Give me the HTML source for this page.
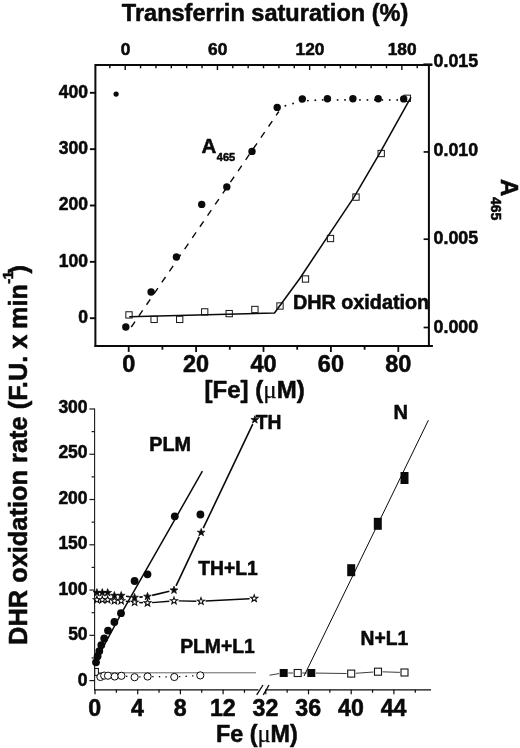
<!DOCTYPE html>
<html><head><meta charset="utf-8"><title>Figure</title>
<style>
html,body{margin:0;padding:0;background:#fff;}
svg{display:block;font-family:"Liberation Sans", sans-serif;fill:#0a0a0a;}
text{stroke:#0a0a0a;stroke-width:0.55px;stroke-linejoin:round;}
.mu{stroke-width:0.25px;}
</style></head><body>
<svg width="520" height="748" viewBox="0 0 520 748">
<rect width="520" height="748" fill="#fff" stroke="none"/>
<text x="121.80" y="21.00" font-size="24.5" font-weight="bold" text-anchor="start" textLength="286.5" lengthAdjust="spacingAndGlyphs" >Transferrin saturation (%)</text>
<polyline points="432.30,65.10 95.40,65.10 95.40,347.00" fill="none" stroke="#0a0a0a" stroke-width="2.0" />
<polyline points="94.50,346.10 432.90,346.10" fill="none" stroke="#0a0a0a" stroke-width="2.0" />
<line x1="428.90" y1="65.10" x2="428.90" y2="346.10" stroke="#0a0a0a" stroke-width="2.0" />
<line x1="109.83" y1="65.10" x2="109.83" y2="68.30" stroke="#0a0a0a" stroke-width="1.4" />
<line x1="125.20" y1="65.10" x2="125.20" y2="70.10" stroke="#0a0a0a" stroke-width="1.4" />
<line x1="140.57" y1="65.10" x2="140.57" y2="68.30" stroke="#0a0a0a" stroke-width="1.4" />
<line x1="155.94" y1="65.10" x2="155.94" y2="68.30" stroke="#0a0a0a" stroke-width="1.4" />
<line x1="171.31" y1="65.10" x2="171.31" y2="68.30" stroke="#0a0a0a" stroke-width="1.4" />
<line x1="186.68" y1="65.10" x2="186.68" y2="68.30" stroke="#0a0a0a" stroke-width="1.4" />
<line x1="202.05" y1="65.10" x2="202.05" y2="68.30" stroke="#0a0a0a" stroke-width="1.4" />
<line x1="217.42" y1="65.10" x2="217.42" y2="70.10" stroke="#0a0a0a" stroke-width="1.4" />
<line x1="232.79" y1="65.10" x2="232.79" y2="68.30" stroke="#0a0a0a" stroke-width="1.4" />
<line x1="248.16" y1="65.10" x2="248.16" y2="68.30" stroke="#0a0a0a" stroke-width="1.4" />
<line x1="263.53" y1="65.10" x2="263.53" y2="68.30" stroke="#0a0a0a" stroke-width="1.4" />
<line x1="278.90" y1="65.10" x2="278.90" y2="68.30" stroke="#0a0a0a" stroke-width="1.4" />
<line x1="294.27" y1="65.10" x2="294.27" y2="68.30" stroke="#0a0a0a" stroke-width="1.4" />
<line x1="309.64" y1="65.10" x2="309.64" y2="70.10" stroke="#0a0a0a" stroke-width="1.4" />
<line x1="325.01" y1="65.10" x2="325.01" y2="68.30" stroke="#0a0a0a" stroke-width="1.4" />
<line x1="340.38" y1="65.10" x2="340.38" y2="68.30" stroke="#0a0a0a" stroke-width="1.4" />
<line x1="355.75" y1="65.10" x2="355.75" y2="68.30" stroke="#0a0a0a" stroke-width="1.4" />
<line x1="371.12" y1="65.10" x2="371.12" y2="68.30" stroke="#0a0a0a" stroke-width="1.4" />
<line x1="386.49" y1="65.10" x2="386.49" y2="68.30" stroke="#0a0a0a" stroke-width="1.4" />
<line x1="401.86" y1="65.10" x2="401.86" y2="70.10" stroke="#0a0a0a" stroke-width="1.4" />
<line x1="417.23" y1="65.10" x2="417.23" y2="68.30" stroke="#0a0a0a" stroke-width="1.4" />
<text x="125.50" y="54.90" font-size="17.3" font-weight="bold" text-anchor="middle" >0</text>
<text x="217.72" y="54.90" font-size="17.3" font-weight="bold" text-anchor="middle" >60</text>
<text x="309.94" y="54.90" font-size="17.3" font-weight="bold" text-anchor="middle" >120</text>
<text x="402.16" y="54.90" font-size="17.3" font-weight="bold" text-anchor="middle" >180</text>
<line x1="89.90" y1="318.20" x2="95.40" y2="318.20" stroke="#0a0a0a" stroke-width="1.9" />
<text x="88.00" y="323.10" font-size="17.5" font-weight="bold" text-anchor="end" >0</text>
<line x1="89.90" y1="261.85" x2="95.40" y2="261.85" stroke="#0a0a0a" stroke-width="1.9" />
<text x="88.00" y="266.75" font-size="17.5" font-weight="bold" text-anchor="end" >100</text>
<line x1="89.90" y1="205.50" x2="95.40" y2="205.50" stroke="#0a0a0a" stroke-width="1.9" />
<text x="88.00" y="210.40" font-size="17.5" font-weight="bold" text-anchor="end" >200</text>
<line x1="89.90" y1="149.15" x2="95.40" y2="149.15" stroke="#0a0a0a" stroke-width="1.9" />
<text x="88.00" y="154.05" font-size="17.5" font-weight="bold" text-anchor="end" >300</text>
<line x1="89.90" y1="92.80" x2="95.40" y2="92.80" stroke="#0a0a0a" stroke-width="1.9" />
<text x="88.00" y="97.70" font-size="17.5" font-weight="bold" text-anchor="end" >400</text>
<line x1="423.60" y1="327.50" x2="428.90" y2="327.50" stroke="#0a0a0a" stroke-width="1.7" />
<text x="433.60" y="332.80" font-size="17.8" font-weight="bold" text-anchor="start" >0.000</text>
<line x1="423.60" y1="239.20" x2="428.90" y2="239.20" stroke="#0a0a0a" stroke-width="1.7" />
<text x="433.60" y="243.50" font-size="17.8" font-weight="bold" text-anchor="start" >0.005</text>
<line x1="423.60" y1="151.95" x2="428.90" y2="151.95" stroke="#0a0a0a" stroke-width="1.7" />
<text x="433.60" y="156.10" font-size="17.8" font-weight="bold" text-anchor="start" >0.010</text>
<text x="433.60" y="67.40" font-size="17.8" font-weight="bold" text-anchor="start" >0.015</text>
<line x1="423.40" y1="64.40" x2="432.30" y2="64.40" stroke="#0a0a0a" stroke-width="2.0" />
<line x1="128.70" y1="346.10" x2="128.70" y2="351.90" stroke="#0a0a0a" stroke-width="1.8" />
<text x="128.70" y="372.40" font-size="23.5" font-weight="bold" text-anchor="middle" >0</text>
<line x1="162.40" y1="346.10" x2="162.40" y2="349.70" stroke="#0a0a0a" stroke-width="1.8" />
<line x1="196.10" y1="346.10" x2="196.10" y2="351.90" stroke="#0a0a0a" stroke-width="1.8" />
<text x="196.10" y="372.40" font-size="23.5" font-weight="bold" text-anchor="middle" >20</text>
<line x1="229.80" y1="346.10" x2="229.80" y2="349.70" stroke="#0a0a0a" stroke-width="1.8" />
<line x1="263.50" y1="346.10" x2="263.50" y2="351.90" stroke="#0a0a0a" stroke-width="1.8" />
<text x="263.50" y="372.40" font-size="23.5" font-weight="bold" text-anchor="middle" >40</text>
<line x1="297.20" y1="346.10" x2="297.20" y2="349.70" stroke="#0a0a0a" stroke-width="1.8" />
<line x1="330.90" y1="346.10" x2="330.90" y2="351.90" stroke="#0a0a0a" stroke-width="1.8" />
<text x="330.90" y="372.40" font-size="23.5" font-weight="bold" text-anchor="middle" >60</text>
<line x1="364.60" y1="346.10" x2="364.60" y2="349.70" stroke="#0a0a0a" stroke-width="1.8" />
<line x1="398.30" y1="346.10" x2="398.30" y2="351.90" stroke="#0a0a0a" stroke-width="1.8" />
<text x="398.30" y="372.40" font-size="23.5" font-weight="bold" text-anchor="middle" >80</text>
<text x="204.6" y="398.3" font-size="24" font-weight="bold">[Fe] (<tspan class="mu" font-family="Liberation Serif, serif" font-weight="normal" font-size="25">μ</tspan>M)</text>
<polyline points="129.20,316.80 274.50,313.00 299.60,278.70 326.80,237.90 354.20,196.90 379.50,153.70 411.00,97.20" fill="none" stroke="#0a0a0a" stroke-width="1.55" stroke-linejoin="round"/>
<polyline points="130.60,328.00 278.80,111.50" fill="none" stroke="#0a0a0a" stroke-width="1.4000000000000001" stroke-dasharray="6.6 6.9" stroke-dashoffset="-1.2"/>
<circle cx="285.40" cy="105.80" r="0.95" fill="#0a0a0a"/>
<circle cx="293.10" cy="103.50" r="0.95" fill="#0a0a0a"/>
<circle cx="300.60" cy="101.30" r="0.95" fill="#0a0a0a"/>
<circle cx="307.90" cy="100.60" r="0.95" fill="#0a0a0a"/>
<circle cx="315.30" cy="100.20" r="0.95" fill="#0a0a0a"/>
<circle cx="322.70" cy="99.90" r="0.95" fill="#0a0a0a"/>
<circle cx="330.15" cy="99.90" r="0.95" fill="#0a0a0a"/>
<circle cx="337.60" cy="99.90" r="0.95" fill="#0a0a0a"/>
<circle cx="345.05" cy="99.90" r="0.95" fill="#0a0a0a"/>
<circle cx="352.50" cy="99.90" r="0.95" fill="#0a0a0a"/>
<circle cx="359.95" cy="99.90" r="0.95" fill="#0a0a0a"/>
<circle cx="367.40" cy="99.90" r="0.95" fill="#0a0a0a"/>
<circle cx="374.85" cy="99.90" r="0.95" fill="#0a0a0a"/>
<circle cx="382.30" cy="99.90" r="0.95" fill="#0a0a0a"/>
<circle cx="389.75" cy="99.90" r="0.95" fill="#0a0a0a"/>
<circle cx="397.20" cy="99.90" r="0.95" fill="#0a0a0a"/>
<rect x="125.85" y="311.75" width="6.3" height="6.3" fill="none" stroke="#151515" stroke-width="1.0"/>
<rect x="150.95" y="316.25" width="6.3" height="6.3" fill="none" stroke="#151515" stroke-width="1.0"/>
<rect x="176.55" y="316.25" width="6.3" height="6.3" fill="none" stroke="#151515" stroke-width="1.0"/>
<rect x="201.55" y="308.75" width="6.3" height="6.3" fill="none" stroke="#151515" stroke-width="1.0"/>
<rect x="226.05" y="310.45" width="6.3" height="6.3" fill="none" stroke="#151515" stroke-width="1.0"/>
<rect x="251.75" y="306.35" width="6.3" height="6.3" fill="none" stroke="#151515" stroke-width="1.0"/>
<rect x="276.85" y="302.85" width="6.3" height="6.3" fill="none" stroke="#151515" stroke-width="1.0"/>
<rect x="302.35" y="275.85" width="6.3" height="6.3" fill="none" stroke="#151515" stroke-width="1.0"/>
<rect x="327.35" y="235.35" width="6.3" height="6.3" fill="none" stroke="#151515" stroke-width="1.0"/>
<rect x="352.85" y="193.95" width="6.3" height="6.3" fill="none" stroke="#151515" stroke-width="1.0"/>
<rect x="378.05" y="150.35" width="6.3" height="6.3" fill="none" stroke="#151515" stroke-width="1.0"/>
<rect x="404.15" y="95.15" width="6.3" height="6.3" fill="none" stroke="#151515" stroke-width="1.0"/>
<circle cx="116.10" cy="94.10" r="2.6" fill="#0a0a0a"/>
<circle cx="125.80" cy="327.00" r="3.7" fill="#0a0a0a"/>
<circle cx="151.10" cy="292.00" r="3.7" fill="#0a0a0a"/>
<circle cx="176.40" cy="257.00" r="3.7" fill="#0a0a0a"/>
<circle cx="201.70" cy="204.40" r="3.7" fill="#0a0a0a"/>
<circle cx="226.80" cy="186.90" r="3.7" fill="#0a0a0a"/>
<circle cx="252.00" cy="151.40" r="3.7" fill="#0a0a0a"/>
<circle cx="277.20" cy="107.40" r="3.7" fill="#0a0a0a"/>
<circle cx="302.30" cy="99.00" r="3.7" fill="#0a0a0a"/>
<circle cx="327.40" cy="98.80" r="3.7" fill="#0a0a0a"/>
<circle cx="352.90" cy="98.80" r="3.7" fill="#0a0a0a"/>
<circle cx="378.20" cy="98.80" r="3.7" fill="#0a0a0a"/>
<circle cx="403.70" cy="98.90" r="3.7" fill="#0a0a0a"/>
<text x="201.60" y="153.00" font-size="20.5" font-weight="bold" text-anchor="start" >A</text>
<text x="216.80" y="160.90" font-size="11" font-weight="bold" text-anchor="start" >465</text>
<text x="292.90" y="309.40" font-size="19.8" font-weight="bold" text-anchor="start" >DHR oxidation</text>
<g transform="translate(500.5,179) rotate(90)"><text x="0" y="0" font-size="24" font-weight="bold">A</text><text x="18" y="9.5" font-size="14" font-weight="bold">465</text></g>
<g transform="translate(27.4,644.9) rotate(-90)" font-weight="bold"><text x="0" y="0" font-size="25.4">DHR oxidation rate (F.U. x</text><text x="316" y="0" font-size="25.2">min</text><text x="361.2" y="-14.6" font-size="15.3" letter-spacing="-0.9">-1</text><text x="371.3" y="0" font-size="25.2">)</text></g>
<line x1="94.60" y1="408.50" x2="94.60" y2="690.30" stroke="#1a1a1a" stroke-width="1.1" />
<line x1="89.40" y1="680.60" x2="94.60" y2="680.60" stroke="#1a1a1a" stroke-width="1.2" />
<text x="87.60" y="685.50" font-size="17.5" font-weight="bold" text-anchor="end" >0</text>
<line x1="91.60" y1="657.97" x2="94.60" y2="657.97" stroke="#1a1a1a" stroke-width="1.2" />
<line x1="89.40" y1="635.33" x2="94.60" y2="635.33" stroke="#1a1a1a" stroke-width="1.2" />
<text x="87.60" y="640.10" font-size="17.5" font-weight="bold" text-anchor="end" >50</text>
<line x1="91.60" y1="612.70" x2="94.60" y2="612.70" stroke="#1a1a1a" stroke-width="1.2" />
<line x1="89.40" y1="590.06" x2="94.60" y2="590.06" stroke="#1a1a1a" stroke-width="1.2" />
<text x="87.60" y="594.69" font-size="17.5" font-weight="bold" text-anchor="end" >100</text>
<line x1="91.60" y1="567.42" x2="94.60" y2="567.42" stroke="#1a1a1a" stroke-width="1.2" />
<line x1="89.40" y1="544.79" x2="94.60" y2="544.79" stroke="#1a1a1a" stroke-width="1.2" />
<text x="87.60" y="549.29" font-size="17.5" font-weight="bold" text-anchor="end" >150</text>
<line x1="91.60" y1="522.15" x2="94.60" y2="522.15" stroke="#1a1a1a" stroke-width="1.2" />
<line x1="89.40" y1="499.52" x2="94.60" y2="499.52" stroke="#1a1a1a" stroke-width="1.2" />
<text x="87.60" y="503.89" font-size="17.5" font-weight="bold" text-anchor="end" >200</text>
<line x1="91.60" y1="476.88" x2="94.60" y2="476.88" stroke="#1a1a1a" stroke-width="1.2" />
<line x1="89.40" y1="454.25" x2="94.60" y2="454.25" stroke="#1a1a1a" stroke-width="1.2" />
<text x="87.60" y="458.48" font-size="17.5" font-weight="bold" text-anchor="end" >250</text>
<line x1="91.60" y1="431.62" x2="94.60" y2="431.62" stroke="#1a1a1a" stroke-width="1.2" />
<line x1="89.40" y1="408.98" x2="94.60" y2="408.98" stroke="#1a1a1a" stroke-width="1.2" />
<text x="87.60" y="413.08" font-size="17.5" font-weight="bold" text-anchor="end" >300</text>
<line x1="94.10" y1="689.80" x2="258.50" y2="689.80" stroke="#0a0a0a" stroke-width="1.3" />
<line x1="265.50" y1="689.80" x2="431.00" y2="689.80" stroke="#0a0a0a" stroke-width="1.3" />
<line x1="256.70" y1="694.80" x2="263.00" y2="685.00" stroke="#0a0a0a" stroke-width="1.3" />
<line x1="263.30" y1="694.80" x2="269.00" y2="685.00" stroke="#0a0a0a" stroke-width="1.3" />
<line x1="95.00" y1="689.80" x2="95.00" y2="694.30" stroke="#0a0a0a" stroke-width="1.2" />
<text x="94.70" y="716.00" font-size="23.2" font-weight="bold" text-anchor="middle" >0</text>
<line x1="116.35" y1="689.80" x2="116.35" y2="692.80" stroke="#0a0a0a" stroke-width="1.2" />
<line x1="137.70" y1="689.80" x2="137.70" y2="694.30" stroke="#0a0a0a" stroke-width="1.2" />
<text x="137.40" y="716.00" font-size="23.2" font-weight="bold" text-anchor="middle" >4</text>
<line x1="159.05" y1="689.80" x2="159.05" y2="692.80" stroke="#0a0a0a" stroke-width="1.2" />
<line x1="180.40" y1="689.80" x2="180.40" y2="694.30" stroke="#0a0a0a" stroke-width="1.2" />
<text x="180.10" y="716.00" font-size="23.2" font-weight="bold" text-anchor="middle" >8</text>
<line x1="201.75" y1="689.80" x2="201.75" y2="692.80" stroke="#0a0a0a" stroke-width="1.2" />
<line x1="223.10" y1="689.80" x2="223.10" y2="694.30" stroke="#0a0a0a" stroke-width="1.2" />
<text x="222.80" y="716.00" font-size="23.2" font-weight="bold" text-anchor="middle" >12</text>
<line x1="244.45" y1="689.80" x2="244.45" y2="692.80" stroke="#0a0a0a" stroke-width="1.2" />
<line x1="265.80" y1="689.80" x2="265.80" y2="694.30" stroke="#0a0a0a" stroke-width="1.2" />
<text x="265.50" y="716.00" font-size="23.2" font-weight="bold" text-anchor="middle" >32</text>
<line x1="287.15" y1="689.80" x2="287.15" y2="692.80" stroke="#0a0a0a" stroke-width="1.2" />
<line x1="308.50" y1="689.80" x2="308.50" y2="694.30" stroke="#0a0a0a" stroke-width="1.2" />
<text x="308.20" y="716.00" font-size="23.2" font-weight="bold" text-anchor="middle" >36</text>
<line x1="329.85" y1="689.80" x2="329.85" y2="692.80" stroke="#0a0a0a" stroke-width="1.2" />
<line x1="351.20" y1="689.80" x2="351.20" y2="694.30" stroke="#0a0a0a" stroke-width="1.2" />
<text x="350.90" y="716.00" font-size="23.2" font-weight="bold" text-anchor="middle" >40</text>
<line x1="372.55" y1="689.80" x2="372.55" y2="692.80" stroke="#0a0a0a" stroke-width="1.2" />
<line x1="393.90" y1="689.80" x2="393.90" y2="694.30" stroke="#0a0a0a" stroke-width="1.2" />
<text x="393.60" y="716.00" font-size="23.2" font-weight="bold" text-anchor="middle" >44</text>
<line x1="415.25" y1="689.80" x2="415.25" y2="692.80" stroke="#0a0a0a" stroke-width="1.2" />
<text x="216" y="742.3" font-size="23.3" font-weight="bold">Fe (<tspan class="mu" font-family="Liberation Serif, serif" font-weight="normal" font-size="24.5">μ</tspan>M)</text>
<line x1="95.00" y1="672.80" x2="256.00" y2="672.80" stroke="#111" stroke-width="0.65" />
<line x1="125.97" y1="676.29" x2="130.03" y2="676.71" stroke="#0a0a0a" stroke-width="1.3" stroke-dasharray="1.4 5.2"/>
<line x1="139.19" y1="676.95" x2="143.01" y2="676.75" stroke="#0a0a0a" stroke-width="1.3" stroke-dasharray="1.4 5.2"/>
<line x1="152.20" y1="676.59" x2="169.70" y2="676.91" stroke="#0a0a0a" stroke-width="1.3" stroke-dasharray="1.4 5.2"/>
<line x1="178.89" y1="676.72" x2="195.71" y2="675.68" stroke="#0a0a0a" stroke-width="1.3" stroke-dasharray="1.4 5.2"/>
<rect x="94.8" y="668.4" width="3.6" height="7" fill="#fff" stroke="#0a0a0a" stroke-width="1"/>
<circle cx="100.40" cy="677.00" r="3.6" fill="#fff" stroke="#0a0a0a" stroke-width="1.0"/>
<circle cx="104.20" cy="675.60" r="3.6" fill="#fff" stroke="#0a0a0a" stroke-width="1.0"/>
<circle cx="108.00" cy="675.70" r="3.6" fill="#fff" stroke="#0a0a0a" stroke-width="1.0"/>
<circle cx="114.70" cy="676.50" r="3.6" fill="#fff" stroke="#0a0a0a" stroke-width="1.0"/>
<circle cx="121.40" cy="675.80" r="3.6" fill="#fff" stroke="#0a0a0a" stroke-width="1.0"/>
<circle cx="134.60" cy="677.20" r="3.6" fill="#fff" stroke="#0a0a0a" stroke-width="1.0"/>
<circle cx="147.60" cy="676.50" r="3.6" fill="#fff" stroke="#0a0a0a" stroke-width="1.0"/>
<circle cx="174.30" cy="677.00" r="3.6" fill="#fff" stroke="#0a0a0a" stroke-width="1.0"/>
<circle cx="200.30" cy="675.40" r="3.6" fill="#fff" stroke="#0a0a0a" stroke-width="1.0"/>
<line x1="125.77" y1="601.31" x2="130.03" y2="601.79" stroke="#0a0a0a" stroke-width="1.45" />
<line x1="139.19" y1="602.55" x2="142.91" y2="602.75" stroke="#0a0a0a" stroke-width="1.45" />
<line x1="152.08" y1="602.62" x2="169.42" y2="601.18" stroke="#0a0a0a" stroke-width="1.45" />
<line x1="178.60" y1="600.89" x2="196.40" y2="601.21" stroke="#0a0a0a" stroke-width="1.45" />
<line x1="205.59" y1="601.06" x2="249.61" y2="598.74" stroke="#0a0a0a" stroke-width="1.45" />
<line x1="125.95" y1="596.27" x2="129.85" y2="596.83" stroke="#0a0a0a" stroke-width="1.6" />
<line x1="139.39" y1="597.13" x2="142.71" y2="596.87" stroke="#0a0a0a" stroke-width="1.6" />
<line x1="152.17" y1="595.39" x2="169.33" y2="591.31" stroke="#0a0a0a" stroke-width="1.6" />
<line x1="176.05" y1="585.86" x2="199.15" y2="536.84" stroke="#0a0a0a" stroke-width="1.6" />
<line x1="203.26" y1="528.17" x2="252.74" y2="424.13" stroke="#0a0a0a" stroke-width="1.6" />
<polyline points="95.40,661.50 121.50,613.10 202.40,471.20" fill="none" stroke="#0a0a0a" stroke-width="1.5" />
<polygon points="96.90,596.10 97.77,598.60 100.42,598.66 98.31,600.26 99.07,602.79 96.90,601.28 94.73,602.79 95.49,600.26 93.38,598.66 96.03,598.60" fill="#fff" stroke="#0a0a0a" stroke-width="1.05" stroke-linejoin="miter"/>
<polygon points="102.30,596.10 103.17,598.60 105.82,598.66 103.71,600.26 104.47,602.79 102.30,601.28 100.13,602.79 100.89,600.26 98.78,598.66 101.43,598.60" fill="#fff" stroke="#0a0a0a" stroke-width="1.05" stroke-linejoin="miter"/>
<polygon points="107.70,596.10 108.57,598.60 111.22,598.66 109.11,600.26 109.87,602.79 107.70,601.28 105.53,602.79 106.29,600.26 104.18,598.66 106.83,598.60" fill="#fff" stroke="#0a0a0a" stroke-width="1.05" stroke-linejoin="miter"/>
<polygon points="114.40,597.10 115.27,599.60 117.92,599.66 115.81,601.26 116.57,603.79 114.40,602.28 112.23,603.79 112.99,601.26 110.88,599.66 113.53,599.60" fill="#fff" stroke="#0a0a0a" stroke-width="1.05" stroke-linejoin="miter"/>
<polygon points="121.20,597.10 122.07,599.60 124.72,599.66 122.61,601.26 123.37,603.79 121.20,602.28 119.03,603.79 119.79,601.26 117.68,599.66 120.33,599.60" fill="#fff" stroke="#0a0a0a" stroke-width="1.05" stroke-linejoin="miter"/>
<polygon points="134.60,598.60 135.47,601.10 138.12,601.16 136.01,602.76 136.77,605.29 134.60,603.78 132.43,605.29 133.19,602.76 131.08,601.16 133.73,601.10" fill="#fff" stroke="#0a0a0a" stroke-width="1.05" stroke-linejoin="miter"/>
<polygon points="147.50,599.30 148.37,601.80 151.02,601.86 148.91,603.46 149.67,605.99 147.50,604.48 145.33,605.99 146.09,603.46 143.98,601.86 146.63,601.80" fill="#fff" stroke="#0a0a0a" stroke-width="1.05" stroke-linejoin="miter"/>
<polygon points="174.00,597.10 174.87,599.60 177.52,599.66 175.41,601.26 176.17,603.79 174.00,602.28 171.83,603.79 172.59,601.26 170.48,599.66 173.13,599.60" fill="#fff" stroke="#0a0a0a" stroke-width="1.05" stroke-linejoin="miter"/>
<polygon points="201.00,597.60 201.87,600.10 204.52,600.16 202.41,601.76 203.17,604.29 201.00,602.78 198.83,604.29 199.59,601.76 197.48,600.16 200.13,600.10" fill="#fff" stroke="#0a0a0a" stroke-width="1.05" stroke-linejoin="miter"/>
<polygon points="254.20,594.80 255.07,597.30 257.72,597.36 255.61,598.96 256.37,601.49 254.20,599.98 252.03,601.49 252.79,598.96 250.68,597.36 253.33,597.30" fill="#fff" stroke="#0a0a0a" stroke-width="1.05" stroke-linejoin="miter"/>
<polygon points="96.90,588.60 97.86,591.37 100.80,591.43 98.46,593.21 99.31,596.02 96.90,594.34 94.49,596.02 95.34,593.21 93.00,591.43 95.94,591.37" fill="#0a0a0a" stroke="#0a0a0a" stroke-width="0.7" stroke-linejoin="miter"/>
<polygon points="102.30,588.60 103.26,591.37 106.20,591.43 103.86,593.21 104.71,596.02 102.30,594.34 99.89,596.02 100.74,593.21 98.40,591.43 101.34,591.37" fill="#0a0a0a" stroke="#0a0a0a" stroke-width="0.7" stroke-linejoin="miter"/>
<polygon points="107.70,588.60 108.66,591.37 111.60,591.43 109.26,593.21 110.11,596.02 107.70,594.34 105.29,596.02 106.14,593.21 103.80,591.43 106.74,591.37" fill="#0a0a0a" stroke="#0a0a0a" stroke-width="0.7" stroke-linejoin="miter"/>
<polygon points="114.40,591.50 115.36,594.27 118.30,594.33 115.96,596.11 116.81,598.92 114.40,597.24 111.99,598.92 112.84,596.11 110.50,594.33 113.44,594.27" fill="#0a0a0a" stroke="#0a0a0a" stroke-width="0.7" stroke-linejoin="miter"/>
<polygon points="121.20,591.50 122.16,594.27 125.10,594.33 122.76,596.11 123.61,598.92 121.20,597.24 118.79,598.92 119.64,596.11 117.30,594.33 120.24,594.27" fill="#0a0a0a" stroke="#0a0a0a" stroke-width="0.7" stroke-linejoin="miter"/>
<polygon points="134.60,593.40 135.56,596.17 138.50,596.23 136.16,598.01 137.01,600.82 134.60,599.14 132.19,600.82 133.04,598.01 130.70,596.23 133.64,596.17" fill="#0a0a0a" stroke="#0a0a0a" stroke-width="0.7" stroke-linejoin="miter"/>
<polygon points="147.50,592.40 148.46,595.17 151.40,595.23 149.06,597.01 149.91,599.82 147.50,598.14 145.09,599.82 145.94,597.01 143.60,595.23 146.54,595.17" fill="#0a0a0a" stroke="#0a0a0a" stroke-width="0.7" stroke-linejoin="miter"/>
<polygon points="174.00,586.10 174.96,588.87 177.90,588.93 175.56,590.71 176.41,593.52 174.00,591.84 171.59,593.52 172.44,590.71 170.10,588.93 173.04,588.87" fill="#0a0a0a" stroke="#0a0a0a" stroke-width="0.7" stroke-linejoin="miter"/>
<polygon points="201.20,528.40 202.16,531.17 205.10,531.23 202.76,533.01 203.61,535.82 201.20,534.14 198.79,535.82 199.64,533.01 197.30,531.23 200.24,531.17" fill="#0a0a0a" stroke="#0a0a0a" stroke-width="0.7" stroke-linejoin="miter"/>
<polygon points="254.80,415.70 255.76,418.47 258.70,418.53 256.36,420.31 257.21,423.12 254.80,421.44 252.39,423.12 253.24,420.31 250.90,418.53 253.84,418.47" fill="#0a0a0a" stroke="#0a0a0a" stroke-width="0.7" stroke-linejoin="miter"/>
<circle cx="96.00" cy="662.30" r="3.9" fill="#0a0a0a"/>
<circle cx="97.60" cy="656.20" r="3.9" fill="#0a0a0a"/>
<circle cx="99.30" cy="651.10" r="3.9" fill="#0a0a0a"/>
<circle cx="101.30" cy="645.10" r="3.9" fill="#0a0a0a"/>
<circle cx="104.20" cy="638.50" r="3.9" fill="#0a0a0a"/>
<circle cx="108.00" cy="630.60" r="3.9" fill="#0a0a0a"/>
<circle cx="114.40" cy="622.00" r="3.9" fill="#0a0a0a"/>
<circle cx="121.00" cy="613.20" r="3.9" fill="#0a0a0a"/>
<circle cx="134.60" cy="581.00" r="3.9" fill="#0a0a0a"/>
<circle cx="147.50" cy="574.30" r="3.9" fill="#0a0a0a"/>
<circle cx="174.80" cy="516.30" r="3.9" fill="#0a0a0a"/>
<circle cx="200.40" cy="514.50" r="3.9" fill="#0a0a0a"/>
<line x1="428.40" y1="420.20" x2="304.00" y2="676.00" stroke="#0a0a0a" stroke-width="1.0" />
<line x1="269.50" y1="675.20" x2="279.20" y2="673.60" stroke="#0a0a0a" stroke-width="0.8" />
<line x1="288.30" y1="673.00" x2="293.10" y2="673.00" stroke="#0a0a0a" stroke-width="0.8" />
<line x1="302.30" y1="673.00" x2="306.70" y2="673.00" stroke="#0a0a0a" stroke-width="0.8" />
<line x1="315.90" y1="673.07" x2="346.60" y2="673.53" stroke="#0a0a0a" stroke-width="0.8" />
<line x1="355.79" y1="673.27" x2="373.41" y2="672.03" stroke="#0a0a0a" stroke-width="0.8" />
<line x1="382.60" y1="671.84" x2="399.90" y2="672.36" stroke="#0a0a0a" stroke-width="0.8" />
<rect x="347.20" y="564.20" width="8" height="12" fill="#0a0a0a"/>
<rect x="373.80" y="517.80" width="8" height="12" fill="#0a0a0a"/>
<rect x="400.50" y="472.00" width="8" height="12" fill="#0a0a0a"/>
<rect x="279.70" y="669.00" width="8" height="8" fill="#0a0a0a"/>
<rect x="307.30" y="669.00" width="8" height="8" fill="#0a0a0a"/>
<rect x="294.20" y="669.50" width="7.0" height="7.0" fill="#fff" stroke="#151515" stroke-width="1.1"/>
<rect x="347.70" y="670.10" width="7.0" height="7.0" fill="#fff" stroke="#151515" stroke-width="1.1"/>
<rect x="374.50" y="668.20" width="7.0" height="7.0" fill="#fff" stroke="#151515" stroke-width="1.1"/>
<rect x="401.00" y="669.00" width="7.0" height="7.0" fill="#fff" stroke="#151515" stroke-width="1.1"/>
<text x="149.20" y="450.80" font-size="19.8" font-weight="bold" text-anchor="start" >PLM</text>
<text x="255.80" y="428.50" font-size="19.3" font-weight="bold" text-anchor="start" >TH</text>
<text x="198.30" y="575.20" font-size="19.3" font-weight="bold" text-anchor="start" >TH+L1</text>
<text x="180.20" y="653.20" font-size="20" font-weight="bold" text-anchor="start" textLength="74.6" lengthAdjust="spacingAndGlyphs" >PLM+L1</text>
<text x="393.40" y="419.30" font-size="20" font-weight="bold" text-anchor="start" >N</text>
<text x="360.50" y="644.50" font-size="19.3" font-weight="bold" text-anchor="start" >N+L1</text>
</svg>
</body></html>
